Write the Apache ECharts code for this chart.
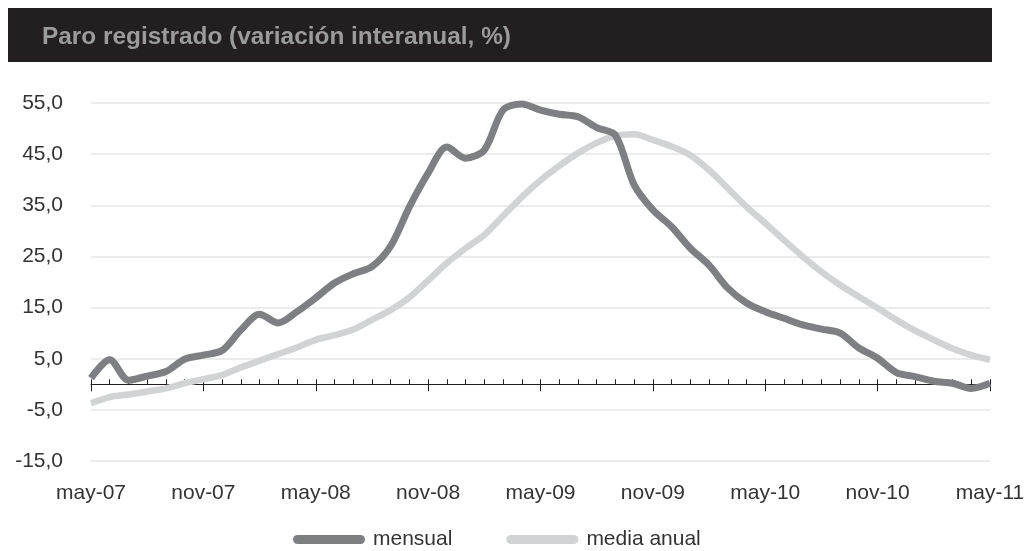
<!DOCTYPE html>
<html>
<head>
<meta charset="utf-8">
<title>Paro registrado</title>
<script src="https://cdn.jsdelivr.net/npm/echarts@6/dist/echarts.min.js"></script>
<style>
  html, body { margin: 0; padding: 0; background: #fff; }
  #paro_con { width: 1025px; height: 551px; }
</style>
</head>
<body>
<div id="paro_con"></div>
<script>
  // meses may-07 .. may-11
  var mesesAbr = ['ene', 'feb', 'mar', 'abr', 'may', 'jun', 'jul', 'ago', 'sep', 'oct', 'nov', 'dic'];
  var categorias = [];
  for (var k = 0; k < 49; k++) {
    var m = (4 + k) % 12;
    var a = 7 + Math.floor((4 + k) / 12);
    categorias.push(mesesAbr[m] + '-' + (a < 10 ? '0' + a : a));
  }

  var mensual = [
    1.2, 4.8, 0.8, 1.6, 2.5, 4.9, 5.7, 6.6, 10.6, 13.7, 12.0, 14.2,
    16.9, 19.8, 21.6, 23.0, 27.0, 34.7, 41.3, 46.4, 44.2, 45.8, 53.6, 54.8,
    53.6, 52.8, 52.3, 50.2, 48.7, 39.0, 34.1, 30.8, 26.6, 23.3, 18.8, 15.9,
    14.2, 12.9, 11.6, 10.8, 10.0, 7.1, 5.1, 2.3, 1.5, 0.6, 0.2, -0.8,
    0.2
  ];
  var mediaAnual = [
    -3.7, -2.5, -2.0, -1.4, -0.8, 0.2, 1.0, 1.8, 3.3, 4.6, 5.9, 7.2,
    8.7, 9.6, 10.7, 12.6, 14.5, 17.0, 20.3, 23.7, 26.6, 29.2, 32.9, 36.6,
    39.9, 42.7, 45.2, 47.2, 48.6, 48.9, 47.8, 46.5, 44.8, 41.9, 38.3, 34.7,
    31.5, 28.2, 25.0, 22.0, 19.4, 17.1, 14.9, 12.6, 10.5, 8.7, 7.0, 5.7,
    4.8
  ];

  var chart = echarts.init(document.getElementById('paro_con'));
  var fuente = '"Liberation Sans", Arial, sans-serif';
  var yMin = -15, yMax = 55;
  var gridTop = 103, gridH = 358;
  // distancia del borde superior / inferior del grid a la linea del cero
  var ceroDesdeArriba = gridH * yMax / (yMax - yMin);
  var ceroDesdeAbajo = gridH - ceroDesdeArriba;
  var capsula = 'path://M4.5,0 L67.5,0 A4.5,4.5 0 0 1 67.5,9 L4.5,9 A4.5,4.5 0 0 1 4.5,0 Z';

  var option = {
    animation: false,
    backgroundColor: '#ffffff',
    graphic: [
      {
        type: 'rect',
        shape: { x: 8, y: 8, width: 984, height: 54 },
        style: { fill: '#231f20' }
      },
      {
        type: 'text',
        left: 42,
        top: 25,
        style: {
          text: 'Paro registrado (variación interanual, %)',
          fill: '#9b9b9b',
          font: 'bold 24.4px "Liberation Sans", Arial, sans-serif'
        }
      }
    ],
    grid: { left: 91, right: 35, top: gridTop, height: gridH, outerBoundsMode: 'none' },
    legend: {
      bottom: -4,
      left: 288,
      itemWidth: 72,
      itemHeight: 9,
      itemGap: 54,
      textStyle: { fontFamily: fuente, fontSize: 21, color: '#333', padding: [0, 0, 0, 3] },
      data: [
        { name: 'mensual', icon: capsula },
        { name: 'media anual', icon: capsula }
      ]
    },
    xAxis: [
      {
        type: 'category',
        data: categorias,
        boundaryGap: false,
        position: 'bottom',
        offset: -ceroDesdeAbajo,
        axisLine: { onZero: false, lineStyle: { color: '#231f20', width: 1 } },
        axisTick: { inside: true, interval: 0, length: 5, lineStyle: { color: '#231f20' } },
        axisLabel: {
          interval: 5,
          margin: 98,
          fontFamily: fuente,
          fontSize: 21,
          color: '#333'
        },
        splitLine: { show: false }
      },
      {
        type: 'category',
        data: categorias,
        boundaryGap: false,
        position: 'top',
        offset: -ceroDesdeArriba,
        axisLine: { show: false, onZero: false },
        axisTick: { show: true, inside: true, interval: 5, length: 7, lineStyle: { color: '#231f20' } },
        axisLabel: { show: false },
        splitLine: { show: false }
      }
    ],
    yAxis: {
      type: 'value',
      min: yMin,
      max: yMax,
      interval: 10,
      axisLine: { show: false },
      axisTick: { show: false },
      axisLabel: {
        margin: 28,
        fontFamily: fuente,
        fontSize: 21,
        color: '#333',
        formatter: function (v) { return v.toFixed(1).replace('.', ','); }
      },
      splitLine: { lineStyle: { color: '#e6e6e6', width: 1.5 } }
    },
    series: [
      {
        name: 'media anual',
        type: 'line',
        data: mediaAnual,
        smooth: 0.3,
        showSymbol: false,
        itemStyle: { color: '#d2d3d5' },
        lineStyle: { color: '#d2d3d5', width: 6.5 },
        z: 2
      },
      {
        name: 'mensual',
        type: 'line',
        data: mensual,
        smooth: 0.3,
        showSymbol: false,
        itemStyle: { color: '#7e7f83' },
        lineStyle: { color: '#7e7f83', width: 7 },
        z: 3
      }
    ]
  };
  chart.setOption(option);
  window.addEventListener('resize', function () {
    chart.resize();
  });
</script>
</body>
</html>
